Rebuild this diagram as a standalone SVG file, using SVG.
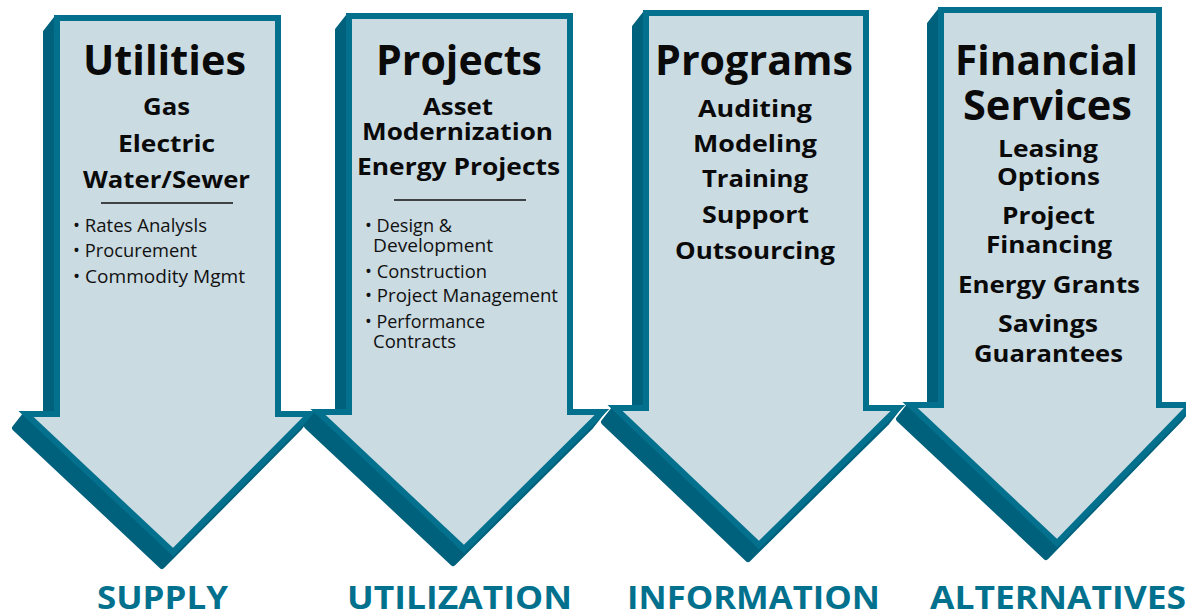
<svg xmlns="http://www.w3.org/2000/svg" width="1186" height="615" viewBox="0 0 1186 615">
<style>
.back{fill:#00617c;stroke:#00617c;stroke-width:6;stroke-linejoin:round}
.face{fill:#cbdbe2;stroke:#03718d;stroke-width:6;stroke-linejoin:miter}
.t{font-family:"Open Sans","Liberation Sans",sans-serif;font-weight:bold;font-size:41px;fill:#0a0a0a}
.s{font-family:"Open Sans","Liberation Sans",sans-serif;font-weight:bold;font-size:23px;fill:#0a0a0a}
.b{font-family:"Open Sans","Liberation Sans",sans-serif;font-size:18px;fill:#111}
.lab{font-family:"Open Sans","Liberation Sans",sans-serif;font-weight:bold;font-size:33px;fill:#02718e}
.rule{stroke:#111;stroke-width:1.6}
</style>
<rect width="1186" height="615" fill="#ffffff"/>
<g id="arrow-supply">
<polygon class="back" points="57,18 278,18 278,414 310,414 299,428 162,566 15,428 26,414 46,414 46,32"/>
<polygon class="face" points="57,18 278,18 278,414 310,414 173,552 26,414 57,414"/>
<text class="t" x="83" y="75" textLength="163" lengthAdjust="spacingAndGlyphs">Utilities</text>
<text class="s" x="143" y="115" textLength="47" lengthAdjust="spacingAndGlyphs">Gas</text>
<text class="s" x="118" y="152" textLength="97" lengthAdjust="spacingAndGlyphs">Electric</text>
<text class="s" x="83" y="188" textLength="167" lengthAdjust="spacingAndGlyphs">Water/Sewer</text>
<line class="rule" x1="101" y1="203" x2="233" y2="203"/>
<text class="b" x="73" y="232" textLength="134" lengthAdjust="spacingAndGlyphs">• Rates Analysls</text>
<text class="b" x="73" y="257" textLength="124" lengthAdjust="spacingAndGlyphs">• Procurement</text>
<text class="b" x="73" y="283" textLength="172" lengthAdjust="spacingAndGlyphs">• Commodity Mgmt</text>
</g>
<g id="arrow-utilization">
<polygon class="back" points="349,16 570,16 570,412 602,412 591,426 453,563 307,426 318,412 338,412 338,30"/>
<polygon class="face" points="349,16 570,16 570,412 602,412 464,549 318,412 349,412"/>
<text class="t" x="376" y="75" textLength="166" lengthAdjust="spacingAndGlyphs">Projects</text>
<text class="s" x="423" y="115" textLength="70" lengthAdjust="spacingAndGlyphs">Asset</text>
<text class="s" x="362" y="140" textLength="191" lengthAdjust="spacingAndGlyphs">Modernization</text>
<text class="s" x="357" y="175" textLength="203" lengthAdjust="spacingAndGlyphs">Energy Projects</text>
<line class="rule" x1="394" y1="200" x2="526" y2="200"/>
<text class="b" x="365" y="232" textLength="87" lengthAdjust="spacingAndGlyphs">• Design &amp;</text>
<text class="b" x="373" y="252" textLength="120" lengthAdjust="spacingAndGlyphs">Development</text>
<text class="b" x="365" y="278" textLength="122" lengthAdjust="spacingAndGlyphs">• Construction</text>
<text class="b" x="365" y="302" textLength="193" lengthAdjust="spacingAndGlyphs">• Project Management</text>
<text class="b" x="365" y="328" textLength="120" lengthAdjust="spacingAndGlyphs">• Performance</text>
<text class="b" x="373" y="348" textLength="83" lengthAdjust="spacingAndGlyphs">Contracts</text>
</g>
<g id="arrow-information">
<polygon class="back" points="646,13 866,13 866,408 898,408 887,422 748,559 604,422 615,408 635,408 635,27"/>
<polygon class="face" points="646,13 866,13 866,408 898,408 759,545 615,408 646,408"/>
<text class="t" x="655" y="75" textLength="198" lengthAdjust="spacingAndGlyphs">Programs</text>
<text class="s" x="698" y="117" textLength="114" lengthAdjust="spacingAndGlyphs">Auditing</text>
<text class="s" x="693" y="152" textLength="124" lengthAdjust="spacingAndGlyphs">Modeling</text>
<text class="s" x="702" y="187" textLength="106" lengthAdjust="spacingAndGlyphs">Training</text>
<text class="s" x="702" y="223" textLength="107" lengthAdjust="spacingAndGlyphs">Support</text>
<text class="s" x="675" y="259" textLength="160" lengthAdjust="spacingAndGlyphs">Outsourcing</text>
</g>
<g id="arrow-alternatives">
<polygon class="back" points="941,10 1159,10 1159,405 1191,405 1180,419 1046,557 899,419 910,405 930,405 930,24"/>
<polygon class="face" points="941,10 1159,10 1159,405 1191,405 1057,543 910,405 941,405"/>
<text class="t" x="955" y="75" textLength="183" lengthAdjust="spacingAndGlyphs">Financial</text>
<text class="t" x="963" y="120" textLength="169" lengthAdjust="spacingAndGlyphs">Services</text>
<text class="s" x="998" y="157" textLength="100" lengthAdjust="spacingAndGlyphs">Leasing</text>
<text class="s" x="997" y="185" textLength="103" lengthAdjust="spacingAndGlyphs">Options</text>
<text class="s" x="1002" y="224" textLength="93" lengthAdjust="spacingAndGlyphs">Project</text>
<text class="s" x="986" y="253" textLength="126" lengthAdjust="spacingAndGlyphs">Financing</text>
<text class="s" x="958" y="293" textLength="182" lengthAdjust="spacingAndGlyphs">Energy Grants</text>
<text class="s" x="998" y="332" textLength="100" lengthAdjust="spacingAndGlyphs">Savings</text>
<text class="s" x="974" y="362" textLength="149" lengthAdjust="spacingAndGlyphs">Guarantees</text>
</g>
<g id="connectors"></g>
<g id="labels">
<text class="lab" x="97" y="609" textLength="131" lengthAdjust="spacingAndGlyphs">SUPPLY</text>
<text class="lab" x="347" y="609" textLength="225" lengthAdjust="spacingAndGlyphs">UTILIZATION</text>
<text class="lab" x="627" y="609" textLength="253" lengthAdjust="spacingAndGlyphs">INFORMATION</text>
<text class="lab" x="930" y="609" textLength="256" lengthAdjust="spacingAndGlyphs">ALTERNATIVES</text>
</g>
</svg>
